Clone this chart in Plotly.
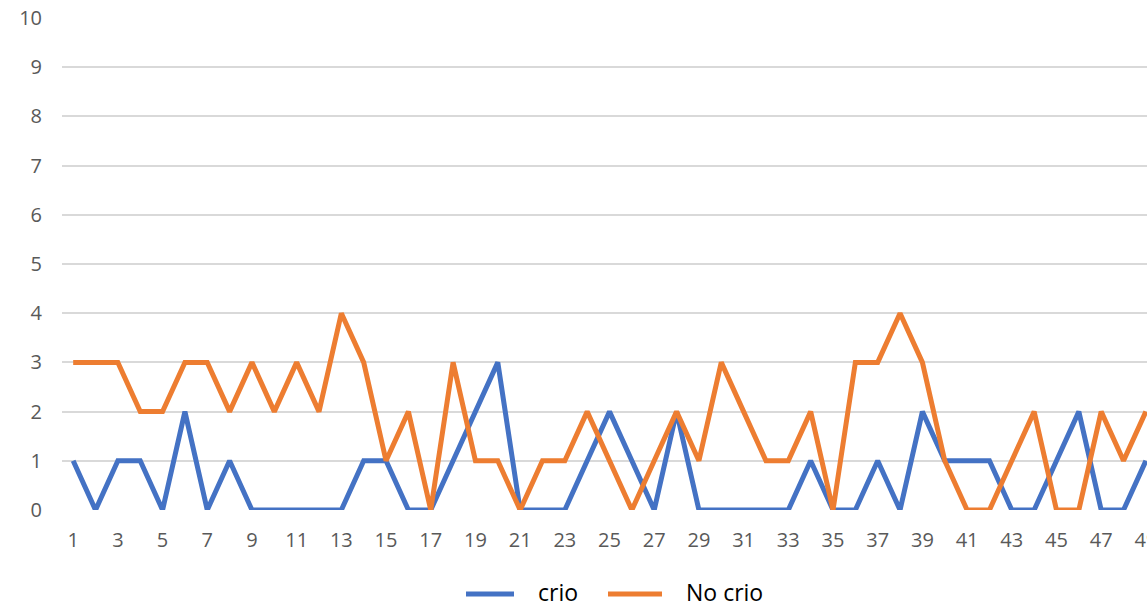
import plotly.graph_objects as go

categories = list(range(1, 50))
crio = [1, 0, 1, 1, 0, 2, 0, 1, 0, 0, 0, 0, 0, 1, 1, 0, 0, 1, 2, 3,
        0, 0, 0, 1, 2, 1, 0, 2, 0, 0, 0, 0, 0, 1, 0, 0, 1, 0, 2, 1,
        1, 1, 0, 0, 1, 2, 0, 0, 1]
no_crio = [3, 3, 3, 2, 2, 3, 3, 2, 3, 2, 3, 2, 4, 3, 1, 2, 0, 3, 1, 1,
           0, 1, 1, 2, 1, 0, 1, 2, 1, 3, 2, 1, 1, 2, 0, 3, 3, 4, 3, 1,
           0, 0, 1, 2, 0, 0, 2, 1, 2]
series_names = ["crio", "No crio"]
series_colors = ["#4472C4", "#ED7D31"]
x_ticks = list(range(1, 50, 2))
y_ticks = list(range(0, 11))

FONT = "Open Sans"
W, H = 1147, 607
ML, MR, MT, MB = 62, 0, 18, 97
PW, PH = W - ML - MR, H - MT - MB


def px_x(p):
    return (p - ML) / PW


def px_y(q):
    return (H - MB - q) / PH


fig = go.Figure()
for name, vals, col in zip(series_names, [crio, no_crio], series_colors):
    fig.add_trace(go.Scatter(x=categories, y=vals, mode="lines", name=name,
                             line=dict(color=col, width=5), showlegend=False))

# legend drawn as line samples + text (to match the long Excel-style samples)
LEG_Y = 592
legend_items = [(466, 514, 537), (608, 662, 685)]
for (x0, x1, tx), name, col in zip(legend_items, series_names, series_colors):
    fig.add_shape(type="line", xref="paper", yref="paper",
                  x0=px_x(x0), x1=px_x(x1), y0=px_y(LEG_Y + 2), y1=px_y(LEG_Y + 2),
                  line=dict(color=col, width=5))
    fig.add_annotation(xref="paper", yref="paper", x=px_x(tx), y=px_y(LEG_Y),
                       xanchor="left", yanchor="middle", showarrow=False, text=name,
                       borderpad=0,
                       font=dict(size=23, color="#000000", family=FONT))

fig.update_layout(
    width=W, height=H,
    margin=dict(l=ML, r=MR, t=MT, b=MB, autoexpand=False),
    paper_bgcolor="white", plot_bgcolor="white",
    font=dict(family=FONT, color="#595959", size=20),
    showlegend=False,
)
fig.update_xaxes(range=[0.5, 49.05], tickvals=x_ticks, ticktext=[str(v) for v in x_ticks],
                 showgrid=False, zeroline=False, showline=False, ticks="",
                 ticklabelstandoff=16, ticklabeloverflow="allow",
                 tickfont=dict(size=20, color="#595959", family=FONT))
fig.update_yaxes(range=[0, 10], tickvals=y_ticks, showgrid=True, gridcolor="#D9D9D9",
                 gridwidth=1.5, zeroline=False, showline=False, ticks="",
                 ticklabelstandoff=19,
                 tickfont=dict(size=20, color="#595959", family=FONT))

fig.write_html("out.html", config={"displayModeBar": False},
               post_script="document.body.style.margin='0';document.body.style.overflow='hidden';")
